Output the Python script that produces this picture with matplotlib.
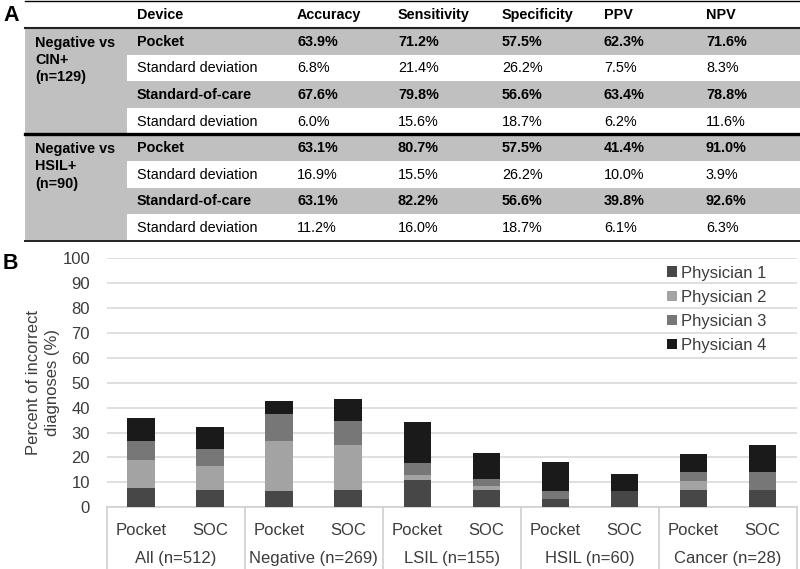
import matplotlib
matplotlib.use("Agg")
import matplotlib.pyplot as plt
from matplotlib.patches import Rectangle
from matplotlib.lines import Line2D
import numpy as np

plt.rcParams['font.family'] = ['Liberation Sans', 'DejaVu Sans']

# ---------------- Panel A data ----------------
metrics = ["Accuracy", "Sensitivity", "Specificity", "PPV", "NPV"]
group_labels = ["Negative vs\nCIN+\n(n=129)", "Negative vs\nHSIL+\n(n=90)"]
row_labels = ["Pocket", "Standard deviation", "Standard-of-care", "Standard deviation"]
row_bold = [True, False, True, False]
cin_values = [
    ["63.9%", "71.2%", "57.5%", "62.3%", "71.6%"],
    ["6.8%", "21.4%", "26.2%", "7.5%", "8.3%"],
    ["67.6%", "79.8%", "56.6%", "63.4%", "78.8%"],
    ["6.0%", "15.6%", "18.7%", "6.2%", "11.6%"],
]
hsil_values = [
    ["63.1%", "80.7%", "57.5%", "41.4%", "91.0%"],
    ["16.9%", "15.5%", "26.2%", "10.0%", "3.9%"],
    ["63.1%", "82.2%", "56.6%", "39.8%", "92.6%"],
    ["11.2%", "16.0%", "18.7%", "6.1%", "6.3%"],
]

# ---------------- Panel B data ----------------
categories = ["All (n=512)", "Negative (n=269)", "LSIL (n=155)", "HSIL (n=60)", "Cancer (n=28)"]
devices = ["Pocket", "SOC"]
physicians = ["Physician 1", "Physician 2", "Physician 3", "Physician 4"]
physician1 = [7.6, 6.9, 6.7, 6.9, 11.0, 6.8, 3.3, 6.7, 7.1, 7.1]
physician2 = [11.4, 9.8, 20.0, 18.0, 2.0, 1.6, 0.0, 0.0, 3.6, 0.0]
physician3 = [7.7, 6.6, 10.6, 9.9, 4.9, 3.1, 3.4, 0.0, 3.6, 7.1]
physician4 = [9.3, 9.1, 5.4, 8.6, 16.2, 10.4, 11.6, 6.7, 7.1, 10.7]
colors = ["#474747", "#a3a3a3", "#777777", "#1a1a1a"]

W, H = 800, 569
fig = plt.figure(figsize=(W / 100, H / 100), dpi=100)

# ---------------- Panel A: table in pixel coordinates ----------------
axt = fig.add_axes([0, 0, 1, 1])
axt.set_xlim(0, W)
axt.set_ylim(H, 0)
axt.axis("off")

gray = "#c0c0c0"
x0, x1, xdev = 25, 800, 127
col_x = [297, 398, 502, 604, 706]
header_top, header_bot = 1, 28
row_h = 26.6
fs_t = 10.4

axt.text(3, 15, "A", fontsize=15.5, fontweight="bold", va="center", ha="left")
axt.text(137, 14.5, "Device", fontsize=fs_t, fontweight="bold", va="center")
for cx, m in zip(col_x, metrics):
    axt.text(cx, 14.5, m, fontsize=fs_t, fontweight="bold", va="center")

for g, (glabel, vals) in enumerate(zip(group_labels, [cin_values, hsil_values])):
    gtop = header_bot + g * 4 * row_h
    axt.add_patch(Rectangle((x0, gtop), xdev - x0, 4 * row_h, facecolor=gray, edgecolor="none"))
    axt.text(35, gtop + 7.5, glabel, fontsize=fs_t, fontweight="bold", va="top", ha="left",
             linespacing=1.3)
    for r in range(4):
        rtop = gtop + r * row_h
        fc = gray if row_bold[r] else "white"
        axt.add_patch(Rectangle((xdev, rtop), x1 - xdev, row_h, facecolor=fc, edgecolor="none"))
        fw = "bold" if row_bold[r] else "normal"
        yc = rtop + row_h / 2 + 0.5
        axt.text(137, yc, row_labels[r], fontsize=fs_t, fontweight=fw, va="center")
        for cx, v in zip(col_x, vals[r]):
            axt.text(cx, yc, v, fontsize=fs_t, fontweight=fw, va="center")

axt.add_line(Line2D([x0, x1], [header_top, header_top], color="black", lw=1.0))
axt.add_line(Line2D([x0, x1], [header_bot, header_bot], color="#222222", lw=1.5))
axt.add_line(Line2D([x0, x1], [header_bot + 4 * row_h] * 2, color="black", lw=2.4))
axt.add_line(Line2D([x0, x1], [header_bot + 8 * row_h] * 2, color="#222222", lw=1.4))

axt.text(3, 263, "B", fontsize=15.5, fontweight="bold", va="center", ha="left")

# ---------------- Panel B: stacked bars ----------------
left_px, right_px, top_px, bot_px = 106.7, 797, 258, 507.3
ax = fig.add_axes([left_px / W, (H - bot_px) / H, (right_px - left_px) / W, (bot_px - top_px) / H])

txt_col = "#3c3c3c"
fs = 12
x = np.arange(len(physician1))
bottom = np.zeros(len(x))
for name, vals, c in zip(physicians, [physician1, physician2, physician3, physician4], colors):
    ax.bar(x, vals, width=0.4, bottom=bottom, color=c, label=name, zorder=3)
    bottom += np.array(vals)

ax.set_xlim(-0.5, len(x) - 0.5)
ax.set_ylim(0, 100)
ax.set_yticks(np.arange(0, 101, 10))
ax.yaxis.grid(True, color="#d9d9d9", lw=1.2, zorder=0)
ax.set_axisbelow(True)
for s in ["left", "right", "top"]:
    ax.spines[s].set_visible(False)
ax.spines["bottom"].set_color("#d0d0d0")
ax.spines["bottom"].set_linewidth(1.2)
ax.tick_params(axis="y", length=0, labelsize=fs, labelcolor=txt_col, pad=12)
ax.tick_params(axis="x", length=0, labelsize=fs, labelcolor=txt_col, pad=11)
ax.set_xticks(x)
ax.set_xticklabels(devices * len(categories))
ax.set_ylabel("Percent of incorrect\ndiagnoses (%)", fontsize=fs, color=txt_col, labelpad=2,
              linespacing=1.3)

trans = ax.get_xaxis_transform()
for i, cat in enumerate(categories):
    ax.text(2 * i + 0.5, -0.205, cat, transform=trans, ha="center", va="center",
            fontsize=fs, color=txt_col)
for b in np.arange(-0.5, len(x), 2):
    ax.add_line(Line2D([b, b], [0, -0.26], transform=trans, color="#d0d0d0", lw=1.2,
                       clip_on=False))

leg = ax.legend(loc="upper left", bbox_to_anchor=(0.79, 1.03), frameon=False, fontsize=fs,
                handlelength=0.6, handleheight=0.6, handletextpad=0.25, labelspacing=0.55,
                labelcolor=txt_col)

fig.savefig("out.png", dpi=100)
